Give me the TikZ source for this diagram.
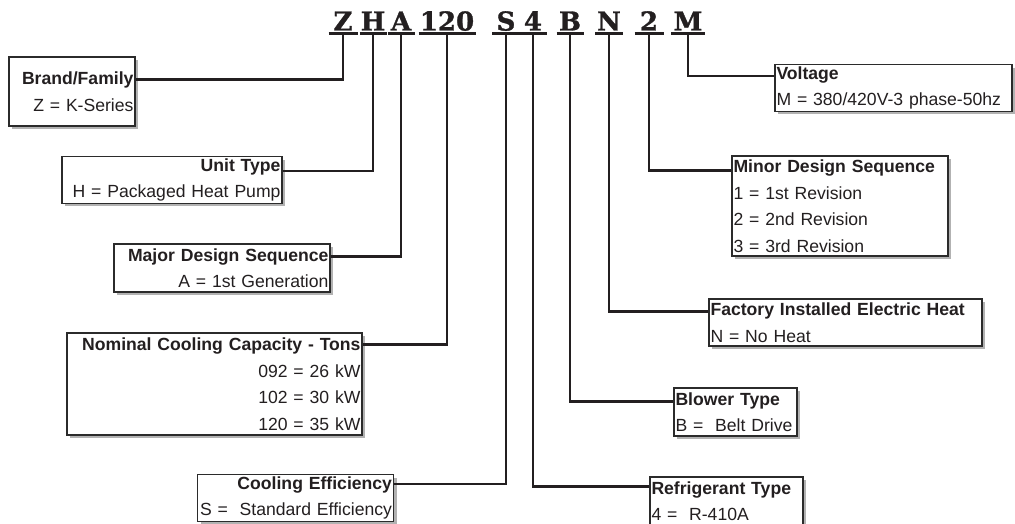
\documentclass[tikz,border=0pt]{standalone}
\usepackage{fontspec}
\setmainfont{Liberation Sans}
\newfontfamily\codefont[FakeBold=1.2]{DejaVu Serif}
\usetikzlibrary{shadows}
\definecolor{ink}{HTML}{231F20}
\definecolor{frame}{HTML}{2B2B2B}
\tikzset{
  every picture/.style={line width=1pt,draw=ink},
  digit/.style={font=\codefont\bfseries\fontsize{26}{26}\selectfont,text=ink,inner xsep=0pt,inner ysep=3pt,text height=19pt,text depth=0pt},
  uline/.style={draw=ink,line width=3pt},
  keybox/.style={draw=frame,fill=white,line width=1.2pt,inner xsep=1.5pt,inner ysep=2pt,font=\fontsize{17.6}{26.5}\selectfont,text=ink,
    drop shadow={shadow xshift=3pt,shadow yshift=-3pt,fill=black!60,opacity=.5}},
  boxl/.style={keybox,align=left},
  boxr/.style={keybox,align=right},
  link/.style={draw=ink,line width=2.3pt},
}
\begin{document}
\begin{tikzpicture}[x=1pt,y=-1pt]
  \useasboundingbox (0,0) rectangle (1015,524);
  % model code
  \foreach \n/\x/\w in {Z/343/28,H/373/26,A/401/26,120/447/56,S/506/27,4/533/26,B/570/26,N/609/27,2/649/28,M/688/33} {
    \node[digit,minimum width=\w pt] (c\n) at (\x,21) {\n};
    \draw[uline] (c\n.south west) -- (c\n.south east);
  }
  % left column
  \node[boxr,text width=123pt,minimum height=69pt] (brand) at (72,91.5) {\textbf{Brand/Family}\\Z = K-Series};
  \node[boxr,text width=217pt,minimum height=46pt] (unit) at (172,180) {\textbf{Unit Type}\\H = Packaged Heat Pump};
  \node[boxr,text width=213pt,minimum height=48pt] (major) at (222,268) {\textbf{Major Design Sequence}\\A = 1st Generation};
  \node[boxr,text width=292pt,minimum height=102pt] (nominal) at (214.5,384) {\textbf{Nominal Cooling Capacity - Tons}\\092 = 26 kW\\102 = 30 kW\\120 = 35 kW};
  \node[boxr,text width=193pt,minimum height=46pt] (cooleff) at (295.5,498) {\textbf{Cooling Efficiency}\\S = \ Standard Efficiency};
  % right column
  \node[boxl,text width=234pt,minimum height=46pt] (voltage) at (893.5,88) {\textbf{Voltage}\\M = 380/420V-3 phase-50hz};
  \node[boxl,text width=213pt,minimum height=100pt] (minor) at (840,206) {\textbf{Minor Design Sequence}\\1 = 1st Revision\\2 = 2nd Revision\\3 = 3rd Revision};
  \node[boxl,text width=270pt,minimum height=47pt] (factory) at (845.5,322.5) {\textbf{Factory Installed Electric Heat}\\N = No Heat};
  \node[boxl,text width=120pt,minimum height=48pt] (blower) at (735.5,412) {\textbf{Blower Type}\\B = \ Belt Drive};
  \node[boxl,text width=150pt,minimum height=48pt] (refrig) at (726.5,501) {\textbf{Refrigerant Type}\\4 = \ R-410A};
  % leaders
  \draw[link] (cZ.south) |- ([yshift=-23pt]brand.north east);
  \draw[link] (cH.south) |- ([yshift=-15pt]unit.north east);
  \draw[link] (cA.south) |- ([yshift=-13pt]major.north east);
  \draw[link] (c120.south) |- ([yshift=-12pt]nominal.north east);
  \draw[link] (cS.south) |- ([yshift=-10pt]cooleff.north east);
  \draw[link] (c4.south) |- ([yshift=-10pt]refrig.north west);
  \draw[link] (cB.south) |- ([yshift=-14pt]blower.north west);
  \draw[link] (cN.south) |- ([yshift=-13pt]factory.north west);
  \draw[link] (c2.south) |- ([yshift=-15pt]minor.north west);
  \draw[link] (cM.south) |- ([yshift=-12pt]voltage.north west);
\end{tikzpicture}
\end{document}
